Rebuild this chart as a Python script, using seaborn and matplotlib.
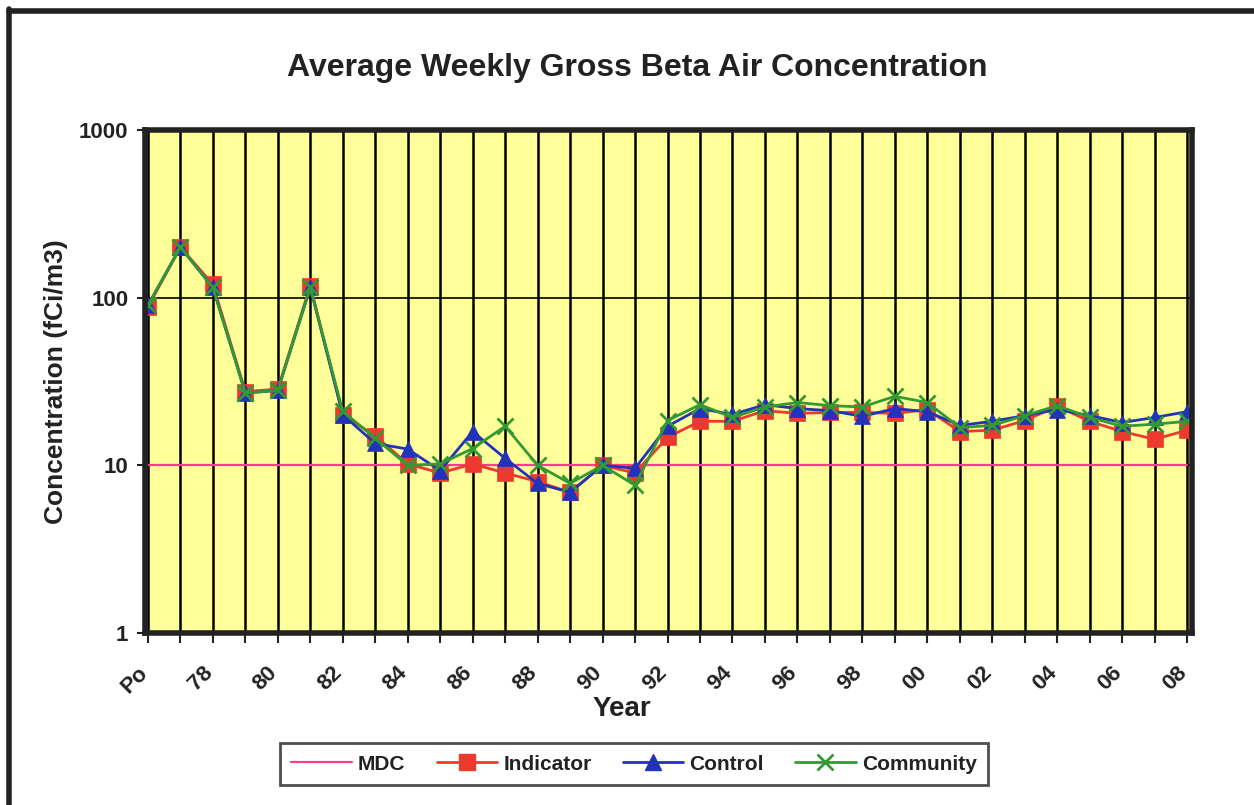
import matplotlib
matplotlib.use("Agg")
import matplotlib.pyplot as plt
import seaborn as sns
import numpy as np
import pandas as pd
from matplotlib.lines import Line2D
from matplotlib.ticker import FixedLocator, FixedFormatter, NullLocator
from matplotlib.transforms import ScaledTranslation

# ---- data ----
years = ["Po", "77", "78", "79", "80", "81", "82", "83", "84", "85", "86", "87",
         "88", "89", "90", "91", "92", "93", "94", "95", "96", "97", "98", "99",
         "00", "01", "02", "03", "04", "05", "06", "07", "08"]
mdc = [10] * len(years)
indicator = [88, 200, 120, 27.5, 28.5, 118, 20, 15, 10.2, 9, 10.2, 9, 8, 6.9,
             10, 9, 14.7, 18.3, 18.3, 21.2, 20.4, 20.7, 20.7, 20.4, 21.5, 15.9,
             16.2, 18.5, 22.5, 18.3, 15.9, 14.3, 16.2]
control = [90, 200, 115, 27, 28, 115, 20, 13.5, 12.5, 9.3, 15.9, 11, 7.8, 6.9,
           10, 9.6, 17.1, 21.8, 20.1, 23, 21.8, 21.2, 19.6, 21.8, 20.9, 17.3,
           18.3, 19.8, 21.5, 19.8, 18, 19.3, 20.9]
community = [90, 200, 115, 27, 28, 115, 21, 14.5, 10, 10.2, 12.6, 17.1, 10, 7.8,
             10, 7.6, 18.5, 23, 19.3, 22.3, 23.7, 22.7, 22.3, 25.8, 23.7, 16.8,
             17.3, 19.8, 22.7, 19.3, 17.1, 17.6, 18.3]
y_ticks = [1, 10, 100, 1000]
y_tick_labels = ["1", "10", "100", "1000"]

sns.set_theme(style="white")
plt.rcParams['font.family'] = ['Liberation Sans', 'DejaVu Sans']
plt.rcParams['font.weight'] = 'bold'

fig = plt.figure(figsize=(12.54, 8.05), dpi=100)
W, H = 1254, 805
ax = fig.add_axes([145 / W, 1 - 633 / H, (1192 - 145) / W, (633 - 130) / H])
ax.set_facecolor("#FFFF99")

pos = np.arange(len(years))
df = pd.DataFrame({"pos": pos, "MDC": mdc, "Indicator": indicator,
                   "Control": control, "Community": community})

# vertical grid lines at each category
for p in pos:
    ax.axvline(p, color="black", lw=1.8, zorder=1)
for yv in [10, 100]:
    ax.axhline(yv, color="black", lw=1.2, zorder=1)

styles = [
    ("MDC", "#FF3C8C", None, 0, 1.6),
    ("Indicator", "#EE3A2E", "s", 12, 2.0),
    ("Control", "#2233BB", "^", 11, 2.0),
    ("Community", "#339933", "x", 11, 2.0),
]
for name, col, mk, ms, lw in styles:
    kw = dict(data=df, x="pos", y=name, ax=ax, color=col, lw=lw, zorder=3)
    if mk is not None:
        kw.update(marker=mk, markersize=ms, markeredgecolor=col,
                  markeredgewidth=2.0 if mk == "x" else 0.5)
    sns.lineplot(**kw)

ax.set_yscale("log")
ax.set_ylim(1, 1000)
ax.set_xlim(-0.09, 32.15)
ax.yaxis.set_major_locator(FixedLocator(y_ticks))
ax.yaxis.set_major_formatter(FixedFormatter(y_tick_labels))
ax.yaxis.set_minor_locator(NullLocator())
ax.set_xticks(pos)
ax.set_xticklabels([y if i % 2 == 0 else "" for i, y in enumerate(years)],
                   rotation=45, ha="right", rotation_mode="anchor",
                   fontsize=16, fontweight="bold", color="#222222")
for lab in ax.get_yticklabels():
    lab.set_fontsize(16)
    lab.set_fontweight("bold")
    lab.set_color("#222222")
ax.tick_params(axis="x", direction="out", length=7, width=1.5, color="#222222",
               pad=14, bottom=True)
ax.tick_params(axis="y", direction="out", length=6, width=1.5, color="#222222",
               pad=6, left=True)
# shift the rotated year labels a little to the left (as in the reference)
shift = ScaledTranslation(-11 / 100, 0, fig.dpi_scale_trans)
for tick in ax.xaxis.get_major_ticks():
    tick.label1.set_transform(tick.label1.get_transform() + shift)

for s in ax.spines.values():
    s.set_visible(True)
    s.set_color("#222222")
    s.set_linewidth(4)
    s.set_zorder(5)

ax.set_xlabel("Year", fontsize=20, fontweight="bold", color="#222222")
ax.xaxis.set_label_coords((622 - 145) / 1047, -(709 - 633) / 503)
ax.xaxis.label.set_va("center")
ax.set_ylabel("Concentration (fCi/m3)", fontsize=19, fontweight="bold",
              color="#222222", labelpad=8)
fig.text(0.508, 1 - 68 / H, "Average Weekly Gross Beta Air Concentration",
         ha="center", va="center", fontsize=23, fontweight="bold", color="#222222")

handles = [
    Line2D([], [], color="#FF3C8C", lw=1.6),
    Line2D([], [], color="#EE3A2E", lw=2, marker="s", markersize=12,
           markeredgecolor="#EE3A2E"),
    Line2D([], [], color="#2233BB", lw=2, marker="^", markersize=11,
           markeredgecolor="#2233BB"),
    Line2D([], [], color="#339933", lw=2, marker="x", markersize=11,
           markeredgewidth=2),
]
leg = fig.legend(handles, ["MDC", "Indicator", "Control", "Community"],
                 loc="center", bbox_to_anchor=(634 / W, 1 - 764 / H), ncol=4,
                 frameon=True, fancybox=False, edgecolor="#222222",
                 fontsize=15, handlelength=2.9, columnspacing=1.5,
                 borderpad=0.55, handletextpad=0.3)
leg.get_frame().set_linewidth(2)
for t in leg.get_texts():
    t.set_fontweight("bold")
    t.set_color("#222222")

# outer frame (left and top edges visible)
fig.add_artist(Line2D([9 / W, 9 / W], [0, 1 - 9 / H], transform=fig.transFigure,
                      color="#222222", lw=4))
fig.add_artist(Line2D([9 / W, 1], [1 - 11 / H, 1 - 11 / H], transform=fig.transFigure,
                      color="#222222", lw=4))

fig.savefig("out.png", dpi=100, facecolor="white")
